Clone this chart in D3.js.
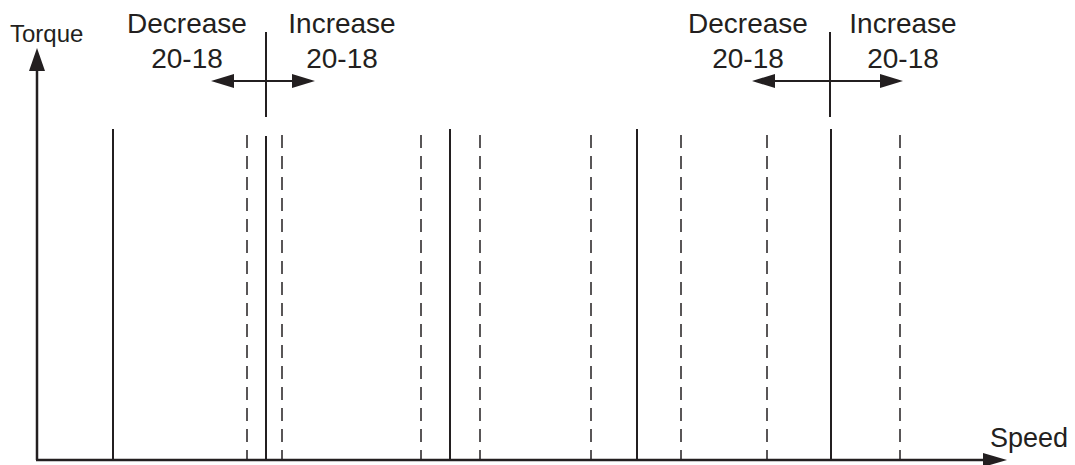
<!DOCTYPE html>
<html>
<head>
  <script src="https://d3js.org/d3.v7.min.js"></script>
  <title>Torque vs Speed</title>
  <style>
  body { margin: 0; background: white; }
  svg text { font-family: "Liberation Sans", Arial, Helvetica, sans-serif; fill: #231f20; }
  </style>
</head>
<body>
<svg id="chart" width="1075" height="465"></svg>
<script>
// speed positions of the vertical lines (arbitrary speed units)
var solidSpeeds  = [76, 229, 413, 600, 794];
var solidHeights = [331, 324, 331, 331, 331];
var dashedSpeeds = [210, 245, 384, 443, 554, 644, 730, 863];
var dashedHeight = 325;

// the two "decrease / increase" markers
var markerSpeeds = [229, 793];
var arrowFrom    = [174, 715];
var arrowTo      = [278, 866];
var decreaseAt   = [150, 711];
var increaseAt   = [305, 866];
var rangeLabel   = "20-18";

var ink = "#231f20";

var svg = d3.select("#chart");

var xs = d3.scaleLinear().domain([0, 970]).range([37, 1007]);
var ys = d3.scaleLinear().domain([0, 412]).range([460, 48]);

// solid lines
svg.append("g").selectAll("line").data(solidSpeeds).enter().append("line")
  .attr("x1", function(d){ return xs(d); })
  .attr("x2", function(d){ return xs(d); })
  .attr("y1", ys(0))
  .attr("y2", function(d, i){ return ys(solidHeights[i]); })
  .attr("stroke", ink)
  .attr("stroke-width", 2);

// dashed lines
svg.append("g").selectAll("line").data(dashedSpeeds).enter().append("line")
  .attr("x1", function(d){ return xs(d); })
  .attr("x2", function(d){ return xs(d); })
  .attr("y1", ys(dashedHeight))
  .attr("y2", ys(0))
  .attr("stroke", ink)
  .attr("stroke-width", 1.5)
  .attr("stroke-dasharray", "13,8");

// axes (plain lines with arrow heads, no ticks)
svg.append("line")
  .attr("x1", xs(0)).attr("y1", ys(0))
  .attr("x2", xs(0)).attr("y2", ys(412) + 20)
  .attr("stroke", ink).attr("stroke-width", 2.5);
svg.append("line")
  .attr("x1", xs(0) - 1).attr("y1", ys(0))
  .attr("x2", xs(970) - 20).attr("y2", ys(0))
  .attr("stroke", ink).attr("stroke-width", 2.5);

svg.append("path")
  .attr("d", "M" + xs(0) + "," + ys(412) + " L" + (xs(0) - 8) + "," + (ys(412) + 23) + " L" + (xs(0) + 8) + "," + (ys(412) + 23) + "Z")
  .attr("fill", ink);
svg.append("path")
  .attr("d", "M" + xs(970) + "," + ys(0) + " L" + (xs(970) - 24) + "," + (ys(0) - 7) + " L" + (xs(970) - 24) + "," + (ys(0) + 7) + "Z")
  .attr("fill", ink);

svg.append("text").attr("x", 10).attr("y", 42)
  .style("font-size", "24px").text("Torque");
svg.append("text").attr("x", 990).attr("y", 447)
  .style("font-size", "27px").text("Speed");

// marker groups
var markerTop = 428, markerBottom = 343, arrowY = 379;
markerSpeeds.forEach(function(m, i) {
  var g = svg.append("g");
  g.append("line")
    .attr("x1", xs(m)).attr("x2", xs(m))
    .attr("y1", ys(markerTop)).attr("y2", ys(markerBottom))
    .attr("stroke", ink).attr("stroke-width", 2);

  var ya = ys(arrowY);
  var x0 = xs(arrowFrom[i]), x1 = xs(arrowTo[i]);
  g.append("line")
    .attr("x1", x0 + 20).attr("x2", x1 - 20)
    .attr("y1", ya).attr("y2", ya)
    .attr("stroke", ink).attr("stroke-width", 2);
  g.append("path")
    .attr("d", "M" + x0 + "," + ya + " L" + (x0 + 23) + "," + (ya - 7) + " L" + (x0 + 23) + "," + (ya + 7) + "Z")
    .attr("fill", ink);
  g.append("path")
    .attr("d", "M" + x1 + "," + ya + " L" + (x1 - 23) + "," + (ya - 7) + " L" + (x1 - 23) + "," + (ya + 7) + "Z")
    .attr("fill", ink);

  [["Decrease", decreaseAt[i]], ["Increase", increaseAt[i]]].forEach(function(lbl) {
    g.append("text")
      .attr("x", xs(lbl[1])).attr("y", 33)
      .attr("text-anchor", "middle")
      .style("font-size", "28px")
      .text(lbl[0]);
    g.append("text")
      .attr("x", xs(lbl[1])).attr("y", 68)
      .attr("text-anchor", "middle")
      .style("font-size", "28px")
      .text(rangeLabel);
  });
});
</script>
</body>
</html>
